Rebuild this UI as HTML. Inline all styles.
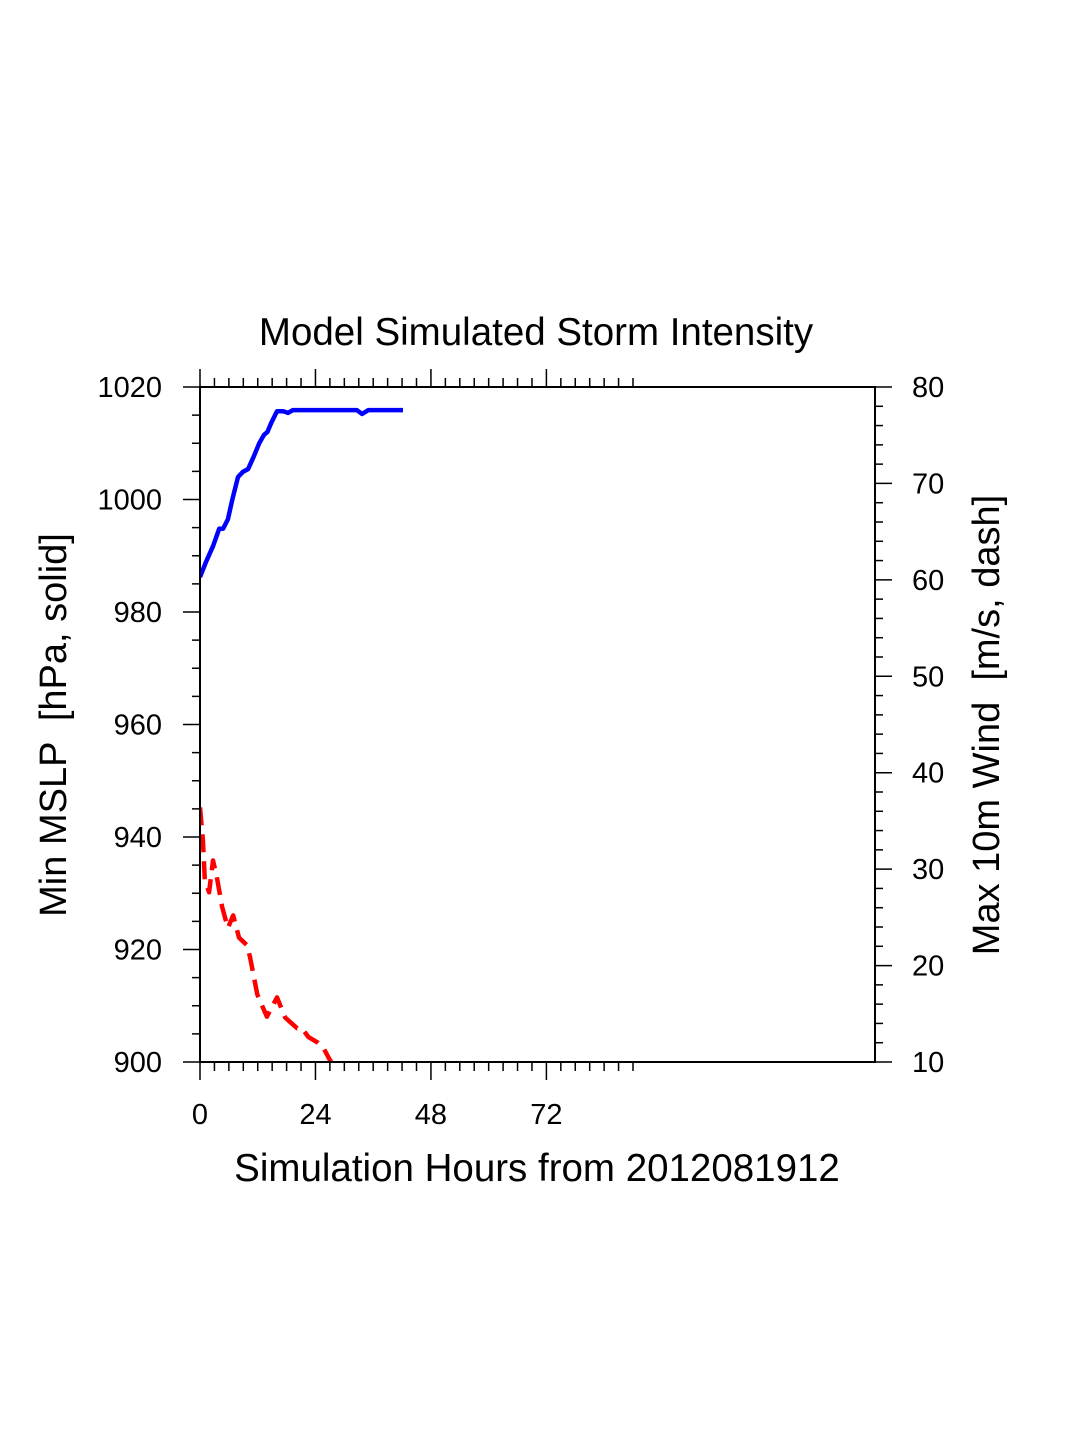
<!DOCTYPE html>
<html><head><meta charset="utf-8"><style>
html,body{margin:0;padding:0;background:#fff}
svg{display:block}
text{font-family:"Liberation Sans",sans-serif;fill:#000}
</style></head><body>
<svg id="chart" width="1075" height="1450" viewBox="0 0 1075 1450" xmlns="http://www.w3.org/2000/svg">
<defs><clipPath id="plotclip"><rect x="200" y="387" width="675" height="675"/></clipPath></defs>
<text x="536" y="345" font-size="38.5" text-anchor="middle">Model Simulated Storm Intensity</text>
<text x="537" y="1181" font-size="38.5" text-anchor="middle">Simulation Hours from 2012081912</text>
<text transform="translate(66,725) rotate(-90)" font-size="38" text-anchor="middle" xml:space="preserve">Min MSLP  [hPa, solid]</text>
<text transform="translate(999,725) rotate(-90)" font-size="38" text-anchor="middle" xml:space="preserve">Max 10m Wind  [m/s, dash]</text>
<g id="axes"></g>
<g id="series" clip-path="url(#plotclip)"></g>
<rect x="200" y="387" width="675" height="675" fill="none" stroke="#000" stroke-width="2"/>
</svg>
<script>
const pressHours = [0,1.25,2.7,4,4.8,5.8,6.7,7.9,8.9,10,11.2,12.3,13.3,14,14.8,16,17.3,18.3,19.3,32.6,33.7,35,42.2];
const pressValues = [986.2,988.9,991.7,994.8,994.8,996.5,999.9,1004,1004.9,1005.4,1007.7,1010,1011.5,1012,1013.6,1015.7,1015.7,1015.4,1015.9,1015.9,1015.2,1015.9,1015.9];
const windHours = [0,0.6,1.0,1.9,2.7,3.5,4.6,5.8,6.9,8.1,9.8,10.4,11.9,13.9,16,17.7,20.2,21.2,22.5,24.5,25.6,27.0,28];
const windValues = [36.4,33.0,28.9,27.6,30.9,29.2,26.1,23.9,25.2,22.9,22.1,20.9,17.0,14.7,16.7,14.6,13.5,13.5,12.6,12.0,11.5,10.2,9.5];
const xTicks = [0,24,48,72];
const leftTicks = [900,920,940,960,980,1000,1020];
const rightTicks = [10,20,30,40,50,60,70,80];

const X0=200,X1=875,Y0=1062,Y1=387;
const xs = h => X0 + h*(X1-X0)/140.3;
const yl = p => Y0 - (p-900)*(Y0-Y1)/120;
const yr = w => Y0 - (w-10)*(Y0-Y1)/70;
const NS="http://www.w3.org/2000/svg";
const axes=document.getElementById('axes'), series=document.getElementById('series');
function line(x1,y1,x2,y2,name){
  const l=document.createElementNS(NS,'line');
  l.setAttribute('x1',x1);l.setAttribute('y1',y1);l.setAttribute('x2',x2);l.setAttribute('y2',y2);
  l.setAttribute('stroke','#000');l.setAttribute('stroke-width','1.5');
  
  
  axes.appendChild(l);
}
function label(x,y,t,anchor,name){
  const e=document.createElementNS(NS,'text');
  e.setAttribute('x',x);e.setAttribute('y',y);e.setAttribute('font-size','29');e.setAttribute('text-anchor',anchor);
  e.textContent=t;
  
  
  axes.appendChild(e);
}
for(let h=0;h<=90;h+=3){
  const major=h%24===0, x=xs(h);
  line(x,Y0,x,Y0+(major?18:9),'x-tick-bottom');
  line(x,Y1,x,Y1-(major?18:9),'x-tick-top');
}
xTicks.forEach(h=>label(xs(h),1124,String(h),'middle','x-tick-label'));
for(let p=900;p<=1020;p+=5){
  const major=p%20===0;
  line(X0,yl(p),X0-(major?17:8),yl(p),'left-tick');
}
leftTicks.forEach(p=>label(162,yl(p)+10,String(p),'end','left-tick-label'));
for(let w=10;w<=80;w+=2){
  const major=w%10===0;
  line(X1,yr(w),X1+(major?17:8),yr(w),'right-tick');
}
rightTicks.forEach(w=>label(912,yr(w)+10,String(w),'start','right-tick-label'));
function path(hs,vs,yf,color,dash,name){
  const p=document.createElementNS(NS,'path');
  p.setAttribute('d',hs.map((h,i)=>(i?'L':'M')+xs(h).toFixed(1)+' '+yf(vs[i]).toFixed(1)).join(' '));
  p.setAttribute('fill','none');p.setAttribute('stroke',color);p.setAttribute('stroke-width','4.5');
  p.setAttribute('stroke-linejoin','round');
  if(dash)p.setAttribute('stroke-dasharray',dash);
  
  
  series.appendChild(p);
}
path(pressHours,pressValues,yl,'#0000ff',null,'mslp-line');
path(windHours,windValues,yr,'#ff0000','18 9','wind-line');
</script>
</body></html>
